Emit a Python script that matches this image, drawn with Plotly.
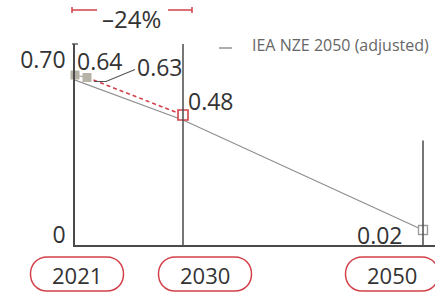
import plotly.graph_objects as go

# ---- data ----
actual_years = [2021, 2022]
actual_values = [0.64, 0.63]
target_years = [2022, 2030]
target_values = [0.63, 0.48]
goal_years = [2050]
goal_values = [0.02]
iea_years = [2021, 2030, 2050]
iea_values = [0.62, 0.46, 0.02]
iea_name = "IEA NZE 2050 (adjusted)"
y_tick_values = [0, 0.70]
y_tick_text = ["0", "0.70"]
x_label_years = [2021, 2030, 2050]
x_label_text = ["2021", "2030", "2050"]
change_text = "\u201324%"

# ---- style ----
FONT = "Open Sans, Segoe UI, sans-serif"
RED = "#d3404a"
AXIS = "#4a4a4a"
GREY_LINE = "#8e8e8e"
SQUARE = "#b6b2a6"
TXT = "#333333"
X_RANGE = [2021, 2051]
Y_RANGE = [-0.04, 0.764]
ML, MT, MB = 75, 44, 54
W, H = 435, 299
PLOT_H = H - MT - MB


def xp(year):
    return (year - X_RANGE[0]) / (X_RANGE[1] - X_RANGE[0])


def yp(pix_from_top):
    return (H - MB - pix_from_top) / PLOT_H


fig = go.Figure()

fig.add_trace(go.Scatter(x=iea_years, y=iea_values, mode="lines", name=iea_name,
                         line=dict(color=GREY_LINE, width=1.2), cliponaxis=False,
                         showlegend=False))
fig.add_trace(go.Scatter(x=target_years, y=target_values, mode="lines",
                         line=dict(color=RED, width=1.6, dash="4px,3px"),
                         cliponaxis=False, showlegend=False))
fig.add_trace(go.Scatter(x=actual_years, y=actual_values, mode="lines+markers",
                         line=dict(color="#9a9a9a", width=1.2),
                         marker=dict(symbol="square", size=9, color=SQUARE,
                                     line=dict(color=SQUARE, width=0)),
                         cliponaxis=False, showlegend=False))
fig.add_trace(go.Scatter(x=target_years[-1:], y=target_values[-1:], mode="markers",
                         marker=dict(symbol="square", size=10, color="white",
                                     line=dict(color=RED, width=1.6)),
                         cliponaxis=False, showlegend=False))
fig.add_trace(go.Scatter(x=goal_years, y=goal_values, mode="markers",
                         marker=dict(symbol="square", size=9, color="white",
                                     line=dict(color="#9a9a9a", width=1.3)),
                         cliponaxis=False, showlegend=False))

shapes = []
annotations = []

# vertical guide lines
shapes.append(dict(type="line", xref="paper", yref="paper", x0=xp(2030), x1=xp(2030),
                   y0=0, y1=1, line=dict(color=AXIS, width=1.5)))
shapes.append(dict(type="line", xref="paper", yref="paper", x0=xp(2050), x1=xp(2050),
                   y0=0, y1=0.52, line=dict(color=AXIS, width=1.5)))
# small cap at top of y axis
shapes.append(dict(type="line", xref="paper", yref="paper", xsizemode="pixel",
                   xanchor=xp(2021), x0=-3, x1=3, y0=1, y1=1,
                   line=dict(color=AXIS, width=1.3)))


def label(x, y, text, xanchor, xshift, yshift):
    annotations.append(dict(x=x, y=y, xref="x", yref="y", text=text, showarrow=False,
                            xanchor=xanchor, yanchor="middle", xshift=xshift,
                            yshift=yshift, font=dict(family=FONT, size=23, color=TXT)))


label(actual_years[0], actual_values[0], f"{actual_values[0]:.2f}", "left", 0, 14)
label(actual_years[1], actual_values[1], f"{actual_values[1]:.2f}", "left", 48, 11)
label(target_years[-1], target_values[-1], f"{target_values[-1]:.2f}", "left", 3, 14)
label(goal_years[0], goal_values[0], f"{goal_values[0]:.2f}", "right", -18, -5)

# leader line for 0.63
shapes.append(dict(type="path", xref="x", yref="y", xsizemode="pixel", ysizemode="pixel",
                   xanchor=actual_years[1], yanchor=actual_values[1],
                   path="M 7,-4 L 19,-4 L 48,8", line=dict(color="#555555", width=1.2)))

# -24% header with bracket
annotations.append(dict(x=(xp(2021) + xp(2030)) / 2, y=yp(0), xref="paper", yref="paper",
                        text=change_text, showarrow=False, xanchor="center",
                        yanchor="top", xshift=2,
                        font=dict(family=FONT, size=24, color=TXT)))
shapes.append(dict(type="path", xref="paper", yref="paper", xsizemode="pixel",
                   ysizemode="pixel", xanchor=xp(2021), yanchor=yp(10),
                   path="M -3,3 L -3,-3 M -3,0 L 22,0", line=dict(color=RED, width=1.5)))
shapes.append(dict(type="path", xref="paper", yref="paper", xsizemode="pixel",
                   ysizemode="pixel", xanchor=xp(2030), yanchor=yp(10),
                   path="M -15,0 L 9,0 M 9,3 L 9,-3", line=dict(color=RED, width=1.5)))

# legend-like label
shapes.append(dict(type="line", xref="paper", yref="paper", x0=(219 - ML) / 360,
                   x1=(232 - ML) / 360, y0=yp(48), y1=yp(48),
                   line=dict(color="#777777", width=1.2)))
annotations.append(dict(x=(250 - ML) / 360, y=yp(45), xref="paper", yref="paper",
                        text=iea_name, showarrow=False, xanchor="left", yanchor="middle",
                        font=dict(family=FONT, size=16, color="#666666")))

# x labels in pills
pill_shift = [2, 22, -31]
hw, hh = 29.5, 17
k = 22.7


def pill(cx):
    return (f"M {cx - hw},{hh} L {cx + hw},{hh} C {cx + hw + k},{hh} {cx + hw + k},{-hh} "
            f"{cx + hw},{-hh} L {cx - hw},{-hh} C {cx - hw - k},{-hh} {cx - hw - k},{hh} "
            f"{cx - hw},{hh} Z")


for yr, txt, sh in zip(x_label_years, x_label_text, pill_shift):
    shapes.append(dict(type="path", xref="paper", yref="paper", xsizemode="pixel",
                       ysizemode="pixel", xanchor=xp(yr), yanchor=yp(274),
                       path=pill(sh), line=dict(color=RED, width=1.5),
                       fillcolor="rgba(0,0,0,0)"))
    annotations.append(dict(x=xp(yr), y=yp(275), xref="paper", yref="paper", text=txt,
                            showarrow=False, xanchor="center", yanchor="middle", xshift=sh,
                            font=dict(family=FONT, size=22, color=TXT)))

fig.update_layout(
    width=W, height=H,
    margin=dict(l=ML, r=0, t=MT, b=MB),
    paper_bgcolor="white", plot_bgcolor="white",
    showlegend=False,
    shapes=shapes, annotations=annotations,
    xaxis=dict(range=X_RANGE, showgrid=False, zeroline=False, showticklabels=False,
               showline=True, linecolor=AXIS, linewidth=1.5, ticks=""),
    yaxis=dict(range=Y_RANGE, showgrid=False, zeroline=False, showline=True,
               linecolor=AXIS, linewidth=1.5, tickvals=y_tick_values, ticktext=y_tick_text,
               ticks="", ticklabelstandoff=3,
               tickfont=dict(family=FONT, size=23, color=TXT)),
)

# remove the default page margin so the figure fills the window exactly
fig.write_html("out.html", config={"displayModeBar": False},
               post_script="document.body.style.margin='0';document.body.style.overflow='hidden';")
